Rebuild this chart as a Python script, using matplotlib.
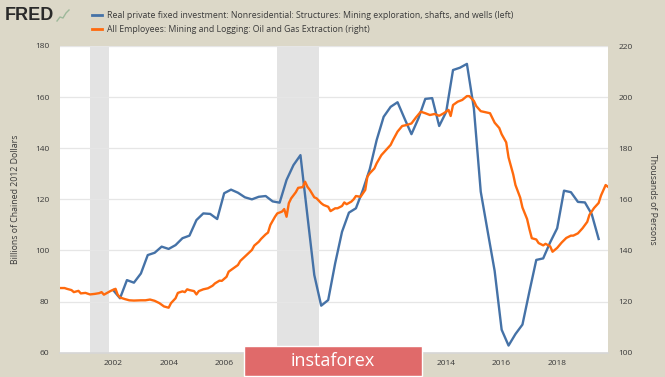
import matplotlib
matplotlib.use('Agg')
import matplotlib.pyplot as plt
import pandas as pd
from matplotlib.lines import Line2D
from matplotlib.patches import Rectangle

plt.rcParams['font.family'] = ['Open Sans', 'DejaVu Sans']

# Real private fixed investment: mining exploration, shafts, wells (quarterly, bn chained 2012 $)
blue_start = '2002-01-01'
blue_vals = [84.5, 81.3, 88.4, 87.4,
             91.0, 98.2, 99.1, 101.5,
             100.6, 102.1, 104.8, 105.8,
             111.9, 114.5, 114.3, 112.3,
             122.4, 123.8, 122.6, 120.8,
             120.0, 121.0, 121.3, 119.2,
             118.7, 127.6, 133.4, 137.3,
             113.5, 90.4, 78.4, 80.6,
             95.0, 107.3, 114.8, 116.5,
             123.7, 131.8, 143.2, 152.3,
             156.2, 158.0, 151.7, 145.5,
             151.7, 159.3, 159.6, 148.7,
             154.2, 170.6, 171.5, 173.0,
             155.5, 123.0, 107.5, 92.0,
             69.0, 62.8, 67.3, 71.0,
             84.0, 96.3, 96.9, 103.2,
             108.7, 123.4, 122.8, 119.0,
             118.8, 114.2, 104.5]

# All employees: oil and gas extraction (thousands)
orange_months = [
    '2000-02', '2000-04', '2000-05', '2000-07', '2000-08', '2000-10', '2000-11',
    '2001-01', '2001-03', '2001-05', '2001-07', '2001-08', '2001-09', '2001-11', '2001-12',
    '2002-02', '2002-03', '2002-04', '2002-06', '2002-08', '2002-10',
    '2003-01', '2003-03', '2003-05', '2003-07', '2003-09', '2003-11',
    '2004-01', '2004-02', '2004-04', '2004-05', '2004-07', '2004-08', '2004-09', '2004-10', '2004-12',
    '2005-01', '2005-02', '2005-04', '2005-06', '2005-08', '2005-09', '2005-11', '2005-12',
    '2006-02', '2006-03', '2006-05', '2006-07', '2006-08', '2006-10', '2006-11',
    '2007-01', '2007-02', '2007-04', '2007-05', '2007-07', '2007-08', '2007-09', '2007-11', '2007-12',
    '2008-02', '2008-03', '2008-04', '2008-05', '2008-06', '2008-08', '2008-09', '2008-11', '2008-12',
    '2009-01', '2009-02', '2009-04', '2009-05', '2009-07', '2009-08', '2009-10', '2009-11',
    '2010-01', '2010-02', '2010-04', '2010-05', '2010-06', '2010-08', '2010-09', '2010-10', '2010-12',
    '2011-02', '2011-03', '2011-04', '2011-06', '2011-07', '2011-09', '2011-11',
    '2012-01', '2012-02', '2012-04', '2012-06', '2012-08', '2012-10', '2012-12',
    '2013-02', '2013-04', '2013-06', '2013-08', '2013-10', '2013-12',
    '2014-02', '2014-03', '2014-04', '2014-06', '2014-08', '2014-10', '2014-11',
    '2015-01', '2015-02', '2015-04', '2015-06', '2015-08', '2015-10', '2015-12',
    '2016-01', '2016-03', '2016-04', '2016-06', '2016-07', '2016-09', '2016-10', '2016-12',
    '2017-01', '2017-02', '2017-04', '2017-05', '2017-07', '2017-08', '2017-10', '2017-11',
    '2018-01', '2018-03', '2018-05', '2018-07', '2018-08', '2018-10', '2018-12',
    '2019-02', '2019-03', '2019-05', '2019-07', '2019-08', '2019-10', '2019-11']
orange_vals = [
    125.3, 125.3, 125.0, 124.5, 123.7, 124.2, 123.2,
    123.4, 122.8, 123.0, 123.3, 123.7, 122.7, 123.7, 124.2,
    125.0, 122.7, 121.6, 121.0, 120.5, 120.4,
    120.5, 120.5, 120.8, 120.3, 119.4, 118.1,
    117.6, 119.4, 121.3, 123.4, 124.0, 123.7, 124.8, 124.5, 124.1,
    122.8, 124.1, 124.8, 125.2, 126.2, 127.1, 128.2, 128.1,
    129.7, 131.7, 133.0, 134.3, 135.9, 137.6, 138.5,
    140.2, 141.9, 143.4, 144.5, 146.3, 147.0, 150.0, 153.2, 154.5,
    155.2, 156.2, 153.2, 158.5, 160.4, 162.8, 164.5, 164.8, 166.9,
    164.9, 163.7, 160.8, 160.4, 158.5, 157.8, 157.1, 155.4,
    156.5, 156.5, 157.4, 158.8, 158.1, 159.1, 160.0, 161.3, 161.0,
    163.7, 168.9, 170.2, 172.1, 174.1, 177.3, 179.3,
    181.3, 183.2, 186.5, 188.7, 189.1, 189.7, 192.1,
    194.3, 193.7, 193.0, 193.4, 192.7, 193.7,
    195.0, 192.6, 196.9, 198.2, 198.9, 200.4, 200.4,
    198.5, 196.5, 194.5, 194.1, 193.7, 190.0, 187.9,
    185.5, 182.3, 176.4, 169.8, 165.6, 160.7, 156.8, 152.3,
    148.3, 144.8, 144.3, 142.9, 142.0, 142.6, 141.6, 139.5,
    141.0, 143.1, 144.9, 145.8, 145.8, 146.7, 148.7,
    151.2, 153.9, 156.6, 158.6, 161.5, 165.6, 164.9]

recessions = [('2001-03-01', '2001-11-01'), ('2007-12-01', '2009-06-01')]
year_ticks = list(range(2002, 2019, 2))

BG = '#dcd8c8'
BLUE = '#4572a7'
ORANGE = '#ff6a0d'
TXT = '#3a3a3a'

W, H = 665, 377

blue_dates = pd.date_range(blue_start, periods=len(blue_vals), freq='QS')
orange_dates = pd.to_datetime(orange_months)

fig = plt.figure(figsize=(W / 100, H / 100), dpi=100, facecolor=BG)
ax = fig.add_axes([60 / W, 1 - 352.7 / H, 548 / W, 306.7 / H])
ax.set_facecolor('white')
ax2 = ax.twinx()

for start, end in recessions:
    ax.axvspan(pd.Timestamp(start), pd.Timestamp(end), color='#e3e3e3', lw=0, zorder=0)

ax.plot(blue_dates, blue_vals, color=BLUE, lw=1.7, zorder=3)
ax2.plot(orange_dates, orange_vals, color=ORANGE, lw=1.7, zorder=3)

ax.set_xlim(pd.Timestamp('2000-02-01'), pd.Timestamp('2019-11-01'))
ax.set_ylim(60, 180)
ax2.set_ylim(100, 220)
ax.set_yticks(range(60, 181, 20))
ax2.set_yticks(range(100, 221, 20))
ax.set_xticks([pd.Timestamp(f'{y}-01-01') for y in year_ticks])
ax.set_xticklabels([str(y) for y in year_ticks])

ax.grid(axis='y', color='#e6e6e6', lw=0.9)
ax.set_axisbelow(True)

for a in (ax, ax2):
    for s in a.spines.values():
        s.set_visible(False)
ax.spines['bottom'].set_visible(True)
ax.spines['bottom'].set_color('#d6d6d6')
ax.spines['bottom'].set_linewidth(1.2)

ax.tick_params(axis='y', length=0, pad=7.5, labelsize=6, labelcolor=TXT)
ax2.tick_params(axis='y', length=0, pad=7.5, labelsize=6, labelcolor=TXT)
ax.tick_params(axis='x', length=0, pad=5, labelsize=6, labelcolor=TXT)

fig.text(16 / W, 1 - 199 / H, 'Billions of Chained 2012 Dollars', rotation=90,
         ha='center', va='center', fontsize=6.3, color=TXT)
fig.text(652 / W, 1 - 199 / H, 'Thousands of Persons', rotation=270,
         ha='center', va='center', fontsize=6.3, color=TXT)

# header: FRED logo and legend
fig.text(5 / W, 1 - 15 / H, 'FRED', fontsize=13, fontweight='bold',
         color='#2a2a2a', ha='left', va='center', family='Liberation Sans')
fig.add_artist(Line2D(
    [57 / W, 60 / W, 63 / W, 66 / W, 69 / W],
    [1 - 21 / H, 1 - 17 / H, 1 - 18 / H, 1 - 13 / H, 1 - 10 / H],
    color='#9db89a', lw=1))
fig.add_artist(Line2D([92 / W, 102 / W], [1 - 15 / H] * 2, color=BLUE, lw=2))
fig.add_artist(Line2D([92 / W, 102 / W], [1 - 29 / H] * 2, color=ORANGE, lw=2))
fig.text(107 / W, 1 - 15 / H,
         'Real private fixed investment: Nonresidential: Structures: Mining exploration, shafts, and wells (left)',
         fontsize=6.3, color=TXT, va='center', ha='left')
fig.text(107 / W, 1 - 29 / H,
         'All Employees: Mining and Logging: Oil and Gas Extraction (right)',
         fontsize=6.3, color=TXT, va='center', ha='left')

# watermark
fig.add_artist(Rectangle((244 / W, 1 - 376 / H), 178 / W, 30 / H,
                         transform=fig.transFigure, facecolor='#e06a6a',
                         edgecolor='white', lw=1, zorder=10))
fig.text(333 / W, 1 - 361 / H, 'instaforex', fontsize=13, color='white',
         ha='center', va='center', zorder=11)

fig.savefig('out.png', dpi=100, facecolor=BG)
